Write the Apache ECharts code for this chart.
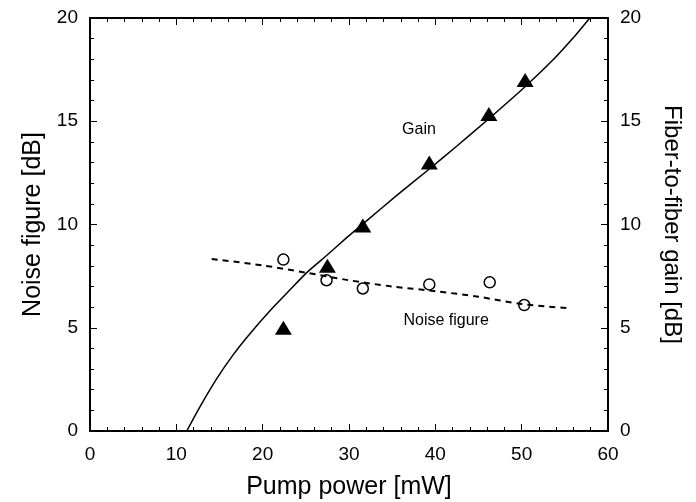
<!DOCTYPE html>
<html><head><meta charset="utf-8">
<script src="https://cdn.jsdelivr.net/npm/echarts@6/dist/echarts.min.js"></script>
<style>html,body{margin:0;padding:0;background:#fff}#c{width:696px;height:502px}</style>
</head><body><div id="c"></div>
<script>
// Measured data (pump power mW)
const gainPump = [22.4, 27.5, 31.6, 39.3, 46.2, 50.4];
const gainValues = [5.0, 8.0, 9.95, 13.0, 15.35, 17.0];
const nfPump = [22.4, 27.4, 31.6, 39.3, 46.3, 50.3];
const nfValues = [8.3, 7.3, 6.9, 7.1, 7.2, 6.1];
// Fitted gain curve
const gainCurveX = [11.2, 12.7, 14.7, 16.6, 18.5, 20.9, 23.2, 25.1, 27.4, 29.7, 32.1, 35.5, 39.2, 42.5, 46.0, 50.2, 53.7, 56.0, 57.9];
const gainCurveY = [0, 1.15, 2.55, 3.7, 4.7, 5.85, 6.85, 7.67, 8.5, 9.35, 10.2, 11.4, 12.65, 13.8, 15.05, 16.6, 18.0, 19.05, 20.0];
// Noise figure trend (dashed)
const nfTrendX = [14.1, 20, 25, 30, 35, 40, 45, 50, 55.3];
const nfTrendY = [8.33, 8.02, 7.67, 7.3, 7.0, 6.77, 6.5, 6.15, 5.95];
const xTicks = [0, 10, 20, 30, 40, 50, 60];
const yTicks = [0, 5, 10, 15, 20];
const annotations = [{x: 38.1, y: 14.6, text: 'Gain'}, {x: 41.25, y: 5.33, text: 'Noise figure'}];

const zip = (a, b) => a.map((v, i) => [v, b[i]]);
const font = 'Liberation Sans, Arial, sans-serif';
const axisLine = {show: true, onZero: false, lineStyle: {color: '#000', width: 2}};
const tick = {show: true, inside: true, length: 7, lineStyle: {color: '#000', width: 1}};
const minor = {show: true, length: 4, splitNumber: 5, lineStyle: {color: '#000', width: 1}};
const chart = echarts.init(document.getElementById('c'));
chart.setOption({
  animation: false,
  grid: {left: 90, right: 88, top: 18, bottom: 71, containLabel: false, outerBoundsMode: 'none'},
  xAxis: [
    {type: 'value', min: xTicks[0], max: xTicks[xTicks.length-1], interval: 10, position: 'bottom',
     name: 'Pump power [mW]', nameLocation: 'middle', nameGap: 44,
     nameTextStyle: {fontFamily: font, fontSize: 25, color: '#000'},
     axisLine, axisTick: tick, minorTick: minor, splitLine: {show: false},
     axisLabel: {fontFamily: font, fontSize: 19, color: '#000', margin: 14}},
    {type: 'value', min: xTicks[0], max: xTicks[xTicks.length-1], interval: 10, position: 'top',
     axisLine, axisTick: tick, minorTick: minor, splitLine: {show: false}, axisLabel: {show: false}}
  ],
  yAxis: [
    {type: 'value', min: yTicks[0], max: yTicks[yTicks.length-1], interval: 5, position: 'left',
     name: 'Noise figure [dB]', nameLocation: 'middle', nameGap: 40, nameRotate: 90,
     nameTextStyle: {fontFamily: font, fontSize: 25, color: '#000'},
     axisLine, axisTick: tick, minorTick: minor, splitLine: {show: false},
     axisLabel: {fontFamily: font, fontSize: 19, color: '#000', margin: 12}},
    {type: 'value', min: yTicks[0], max: yTicks[yTicks.length-1], interval: 5, position: 'right',
     name: 'Fiber-to-fiber gain [dB]', nameLocation: 'middle', nameGap: 52, nameRotate: -90,
     nameTextStyle: {fontFamily: font, fontSize: 24, color: '#000'},
     axisLine, axisTick: tick, minorTick: minor, splitLine: {show: false},
     axisLabel: {fontFamily: font, fontSize: 19, color: '#000', margin: 12}}
  ],
  series: [
    {type: 'line', data: zip(gainCurveX, gainCurveY), yAxisIndex: 1, smooth: 0.2, symbol: 'none',
     lineStyle: {color: '#000', width: 1.5}},
    {type: 'line', data: zip(nfTrendX, nfTrendY), yAxisIndex: 0, smooth: 0.3, symbol: 'none',
     lineStyle: {color: '#000', width: 2, type: [6, 5]}},
    {type: 'scatter', data: zip(gainPump, gainValues), yAxisIndex: 1, symbol: 'triangle', symbolSize: [17, 14],
     itemStyle: {color: '#000', opacity: 1}},
    {type: 'scatter', data: zip(nfPump, nfValues), yAxisIndex: 0, symbol: 'circle', symbolSize: 11,
     itemStyle: {color: '#fff', borderColor: '#000', borderWidth: 1.5, opacity: 1}},
    {type: 'scatter', data: annotations.map(a => ({value: [a.x, a.y], label: {formatter: a.text}})),
     symbolSize: 0, silent: true, itemStyle: {opacity: 1},
     label: {show: true, position: 'inside', fontFamily: font, fontSize: 16, color: '#000'}}
  ]
});
</script></body></html>
